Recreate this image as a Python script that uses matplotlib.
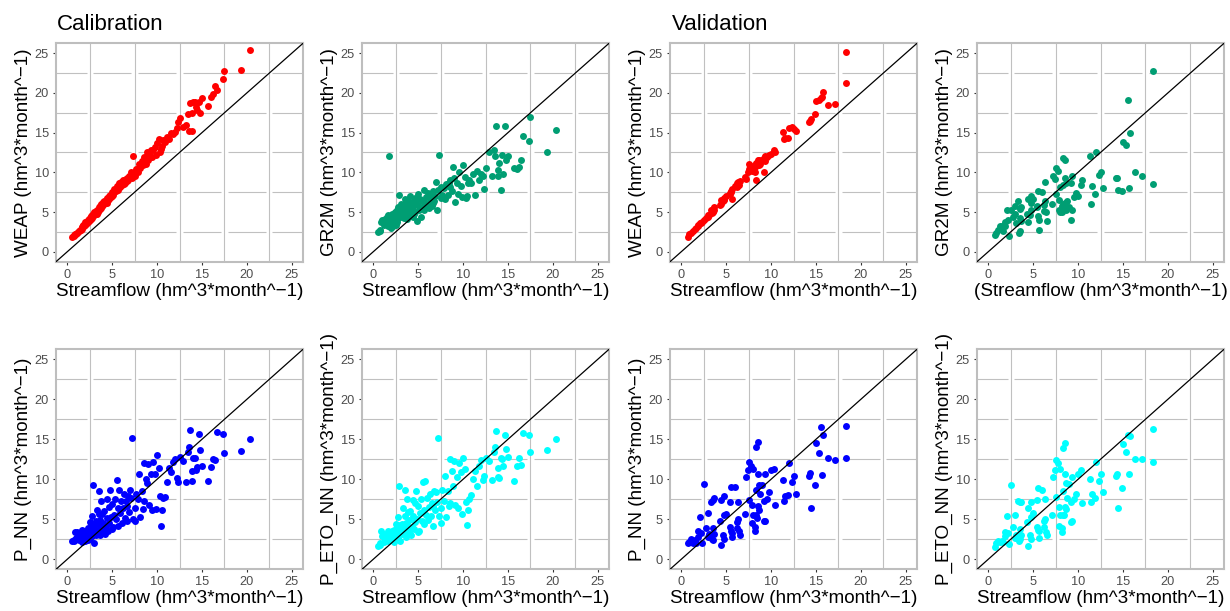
import numpy as np
import matplotlib
matplotlib.use("Agg")
import matplotlib.pyplot as plt

plt.rcParams['font.family'] = ['Liberation Sans', 'DejaVu Sans']

# calibration period: observed streamflow and the four simulations
cal_flow = [20.4, 19.4, 17.4, 17.3, 16.7, 16.4, 16.2, 16.0, 15.7, 15.0,
            14.8, 14.7, 14.5, 14.3, 14.2, 14.0, 13.9, 13.9, 13.7, 13.6,
            13.5, 13.2, 12.9, 12.6, 12.3, 12.2, 12.0, 11.8, 11.6, 11.3,
            11.1, 10.9, 10.7, 10.5, 10.4, 10.3, 10.2, 10.0, 9.9, 9.8,
            9.6, 9.4, 9.3, 9.1, 9.0, 8.9, 8.8, 8.6, 8.5, 8.4,
            8.3, 8.1, 8.0, 7.9, 7.7, 7.6, 7.5, 7.3, 7.2, 7.1,
            7.0, 6.9, 6.8, 6.7, 6.6, 6.5, 6.4, 6.3, 6.2, 6.1,
            6.0, 5.9, 5.8, 5.7, 5.6, 5.5, 5.4, 5.3, 5.2, 5.1,
            5.0, 5.0, 4.9, 4.8, 4.7, 4.6, 4.5, 4.4, 4.4, 4.3,
            4.2, 4.1, 4.0, 4.0, 3.9, 3.8, 3.8, 3.7, 3.6, 3.6,
            3.5, 3.5, 3.4, 3.3, 3.3, 3.2, 3.2, 3.1, 3.0, 3.0,
            2.9, 2.9, 2.8, 2.8, 2.7, 2.7, 2.6, 2.6, 2.5, 2.5,
            2.4, 2.4, 2.3, 2.3, 2.2, 2.1, 2.1, 2.0, 2.0, 1.9,
            1.8, 1.8, 1.7, 1.6, 1.6, 1.5, 1.4, 1.3, 1.2, 1.1,
            1.0, 0.9, 0.8, 0.7, 0.5]
cal_weap = [25.4, 22.9, 22.7, 21.7, 20.4, 20.9, 19.9, 19.5, 18.3, 19.4,
            17.5, 18.9, 17.8, 18.2, 18.8, 18.8, 17.5, 15.2, 18.7, 15.2,
            17.3, 16.0, 15.7, 16.8, 16.3, 15.6, 15.1, 14.8, 15.0, 14.2,
            14.4, 13.8, 14.1, 13.3, 13.0, 12.5, 14.2, 13.7, 12.2, 13.2,
            12.8, 11.9, 12.8, 12.3, 11.5, 12.6, 11.1, 11.6, 11.9, 10.9,
            11.4, 10.5, 11.0, 10.1, 10.4, 9.9, 9.5, 12.1, 9.3, 10.0,
            9.4, 9.6, 9.0, 9.3, 8.9, 9.2, 8.7, 8.5, 9.0, 8.4,
            8.8, 8.2, 8.6, 8.0, 7.8, 8.3, 7.6, 7.7, 7.9, 7.2,
            7.0, 7.5, 6.9, 7.2, 6.7, 7.0, 6.5, 6.8, 6.2, 6.5,
            6.1, 6.4, 5.9, 6.3, 5.8, 6.0, 5.5, 5.8, 5.4, 5.7,
            5.2, 5.6, 5.0, 5.3, 4.8, 5.1, 4.7, 4.9, 4.6, 5.0,
            4.5, 4.8, 4.3, 4.6, 4.2, 4.5, 4.1, 4.4, 4.0, 4.3,
            3.9, 4.1, 3.7, 4.0, 3.6, 3.5, 3.8, 3.4, 3.7, 3.3,
            3.2, 3.4, 3.1, 2.9, 3.1, 2.8, 2.7, 2.6, 2.5, 2.4,
            2.3, 2.2, 2.1, 2.0, 1.8]
cal_gr2m = [15.3, 12.5, 17.0, 13.9, 14.6, 11.6, 10.7, 10.4, 10.5, 12.1,
            11.6, 15.8, 9.8, 12.2, 7.8, 11.2, 9.5, 10.3, 15.8, 12.0,
            12.8, 9.5, 12.5, 10.5, 7.9, 9.6, 9.8, 9.0, 10.2, 7.2,
            9.8, 8.7, 9.0, 8.6, 7.0, 6.8, 9.4, 10.9, 6.9, 8.3,
            10.0, 7.3, 8.6, 6.3, 9.3, 10.7, 7.6, 8.2, 9.1, 8.6,
            7.1, 8.5, 6.6, 8.0, 7.2, 6.8, 8.1, 12.2, 7.8, 5.2,
            8.8, 7.0, 6.4, 7.7, 6.2, 5.8, 7.2, 6.6, 5.5, 7.4,
            6.0, 6.9, 5.9, 7.8, 5.2, 6.4, 5.7, 4.4, 6.7, 5.3,
            7.3, 5.9, 3.9, 6.2, 5.0, 6.8, 4.7, 5.6, 4.4, 6.3,
            5.3, 7.0, 4.6, 5.9, 6.4, 5.0, 4.1, 6.1, 5.5, 4.5,
            6.6, 5.0, 4.2, 5.8, 4.9, 5.4, 4.4, 6.0, 5.1, 4.6,
            7.1, 5.2, 4.3, 5.6, 4.9, 3.8, 5.3, 4.1, 4.8, 3.4,
            4.5, 5.0, 3.9, 4.4, 3.3, 4.7, 3.7, 4.2, 3.0, 4.0,
            12.1, 3.4, 4.6, 3.8, 3.2, 4.4, 3.6, 4.1, 3.4, 3.9,
            4.0, 3.7, 2.6, 2.7, 2.5]
cal_pnn = [15.0, 13.5, 13.3, 15.7, 15.9, 12.4, 12.5, 11.5, 9.8, 11.7,
           13.6, 15.6, 11.5, 11.2, 12.7, 12.7, 11.0, 9.8, 16.2, 14.0,
           13.4, 9.6, 12.3, 12.8, 9.6, 10.1, 12.5, 12.2, 10.9, 11.4,
           9.7, 7.8, 7.6, 6.1, 4.2, 7.9, 11.4, 13.0, 6.3, 10.6,
           12.1, 6.2, 10.7, 6.8, 11.9, 9.5, 10.0, 12.0, 7.3, 6.3,
           8.5, 5.3, 10.6, 7.5, 8.2, 6.4, 4.8, 5.0, 15.2, 7.6,
           8.6, 5.9, 7.9, 6.6, 4.8, 7.3, 5.2, 8.1, 6.4, 4.5,
           7.3, 5.8, 8.6, 4.2, 6.4, 9.9, 5.0, 7.5, 5.6, 4.1,
           6.9, 3.8, 5.3, 8.6, 4.5, 6.5, 3.6, 7.5, 5.2, 4.0,
           3.2, 6.0, 4.6, 3.5, 5.7, 4.2, 7.3, 3.0, 4.9, 3.8,
           8.5, 5.7, 3.3, 4.4, 6.2, 3.1, 4.8, 3.7, 2.1, 4.2,
           9.3, 3.4, 2.9, 5.4, 3.5, 4.5, 3.0, 3.8, 2.6, 4.7,
           3.3, 2.8, 3.9, 2.4, 3.1, 2.7, 3.5, 2.3, 3.0, 2.8,
           2.5, 3.3, 2.2, 3.7, 2.5, 2.8, 3.0, 2.4, 2.6, 3.4,
           2.7, 3.4, 2.4, 2.3, 2.3]
cal_peto = [15.0, 13.6, 13.4, 15.5, 15.8, 11.8, 12.6, 11.6, 9.8, 12.8,
            13.8, 15.5, 11.6, 12.5, 12.7, 10.2, 10.3, 11.4, 16.0, 14.0,
            13.4, 9.9, 12.3, 12.6, 10.4, 9.9, 12.4, 11.6, 9.2, 11.0,
            10.0, 8.0, 7.5, 6.2, 4.3, 7.1, 11.3, 12.6, 5.7, 10.9,
            12.0, 6.4, 10.3, 6.8, 12.3, 9.2, 11.0, 12.5, 7.0, 6.6,
            8.5, 5.3, 10.4, 7.3, 8.6, 6.4, 4.5, 5.4, 15.2, 7.2,
            8.4, 6.1, 8.5, 6.6, 4.2, 7.0, 5.4, 8.2, 6.5, 4.9,
            7.6, 5.5, 9.8, 4.4, 6.2, 9.6, 4.8, 7.5, 5.8, 3.6,
            6.6, 3.4, 5.1, 8.5, 4.7, 7.0, 3.8, 7.4, 5.4, 4.0,
            3.0, 6.0, 4.9, 3.4, 5.9, 4.5, 7.5, 2.8, 4.6, 3.9,
            8.6, 5.4, 3.5, 4.1, 6.4, 3.2, 4.4, 3.6, 2.3, 4.3,
            9.2, 3.4, 2.7, 5.3, 3.6, 4.2, 3.1, 3.9, 2.5, 4.4,
            3.5, 2.9, 3.7, 2.2, 3.0, 2.6, 3.6, 2.4, 3.3, 2.7,
            2.6, 3.4, 2.3, 3.5, 2.6, 3.0, 2.8, 2.5, 2.2, 3.2,
            2.9, 3.6, 2.0, 1.8, 1.7]

# validation period
val_flow = [18.4, 18.4, 17.1, 16.3, 15.6, 15.8, 15.0, 15.3, 15.7, 14.9,
            14.5, 14.3, 14.2, 12.0, 12.6, 12.3, 12.8, 11.9, 11.6, 11.4,
            11.3, 10.3, 10.0, 10.4, 8.5, 8.3, 7.6, 7.8, 7.4, 8.0,
            7.2, 8.6, 9.3, 8.8, 9.0, 8.7, 8.3, 9.8, 9.6, 9.2,
            8.6, 8.7, 7.9, 8.0, 8.4, 8.3, 7.9, 8.2, 8.2, 9.2,
            9.3, 7.1, 7.5, 5.5, 6.0, 6.3, 5.4, 4.4, 4.8, 3.5,
            3.7, 3.3, 2.5, 3.0, 2.1, 4.8, 5.0, 6.3, 6.2, 6.2,
            6.5, 6.4, 5.7, 5.7, 4.4, 4.6, 4.8, 4.3, 5.4, 5.5,
            3.5, 3.7, 3.5, 3.4, 2.8, 3.1, 3.0, 1.9, 2.2, 1.9,
            1.5, 1.1, 0.7, 0.9, 2.3, 1.7, 1.3]
val_weap = [25.1, 21.2, 18.6, 18.5, 19.3, 20.1, 19.0, 19.1, 19.5, 17.3,
            16.7, 16.5, 16.4, 15.6, 15.5, 15.7, 15.2, 14.3, 14.3, 14.2,
            15.1, 12.8, 12.3, 12.6, 11.6, 11.0, 11.0, 10.3, 10.0, 10.8,
            9.2, 11.3, 11.4, 11.0, 11.6, 10.9, 9.1, 12.2, 11.9, 10.1,
            11.1, 11.5, 10.6, 10.4, 10.9, 11.2, 10.2, 10.7, 10.0, 11.8,
            12.0, 9.4, 10.4, 7.5, 8.3, 8.8, 7.3, 6.5, 6.6, 5.4,
            5.6, 5.2, 4.0, 4.6, 3.6, 6.8, 7.0, 8.4, 8.6, 8.1,
            8.9, 8.4, 6.6, 7.9, 6.0, 6.4, 6.5, 5.9, 7.4, 7.6,
            5.1, 5.2, 5.0, 4.9, 4.3, 4.6, 4.4, 3.4, 3.6, 3.2,
            2.9, 2.4, 1.9, 2.2, 3.8, 3.0, 2.6]
val_gr2m = [22.7, 8.5, 9.6, 10.0, 19.1, 15.0, 13.8, 13.5, 8.0, 7.6,
            7.8, 9.3, 9.3, 12.6, 10.0, 9.7, 8.0, 7.3, 8.3, 6.0,
            12.1, 8.4, 7.0, 9.0, 11.6, 11.8, 10.6, 10.2, 9.2, 8.2,
            9.6, 9.3, 9.5, 6.4, 5.6, 8.6, 8.4, 7.4, 6.9, 8.7,
            6.2, 5.2, 6.5, 5.0, 5.6, 6.0, 5.3, 5.0, 5.8, 4.0,
            5.3, 6.0, 7.3, 7.7, 7.5, 8.8, 5.8, 6.6, 7.0, 5.4,
            5.6, 6.4, 5.2, 5.8, 5.3, 6.2, 6.7, 6.4, 5.9, 5.1,
            3.9, 5.0, 2.8, 4.0, 3.8, 4.6, 5.2, 4.7, 5.6, 4.5,
            4.3, 3.9, 2.6, 2.4, 4.4, 3.6, 4.8, 3.8, 4.0, 3.2,
            3.3, 2.8, 2.1, 2.4, 2.0, 2.6, 3.3]
val_pnn = [16.6, 12.6, 12.4, 12.6, 16.5, 15.5, 14.5, 13.3, 10.5, 9.3,
           6.4, 10.8, 10.4, 12.0, 10.4, 9.6, 8.2, 8.0, 7.9, 7.3,
           9.9, 11.3, 11.2, 6.8, 14.6, 14.0, 12.2, 11.6, 11.2, 11.3,
           10.3, 10.6, 10.6, 8.2, 9.3, 9.3, 8.7, 8.4, 7.5, 7.3,
           6.7, 6.2, 6.8, 5.6, 5.2, 5.6, 4.5, 4.1, 3.6, 4.8,
           4.8, 5.7, 7.4, 9.0, 9.0, 7.2, 7.2, 7.4, 7.9, 7.4,
           7.6, 7.1, 9.4, 5.8, 5.3, 5.6, 5.7, 5.0, 4.7, 3.9,
           3.1, 3.5, 2.8, 3.3, 1.8, 3.0, 2.6, 4.8, 4.1, 3.5,
           3.9, 3.2, 2.4, 2.6, 3.9, 3.2, 2.8, 3.5, 3.3, 2.8,
           2.4, 2.6, 2.0, 2.2, 2.1, 2.1, 2.1]
val_peto = [16.3, 12.1, 12.5, 12.5, 15.5, 15.4, 14.4, 13.4, 10.7, 8.9,
            6.4, 10.7, 10.4, 12.2, 10.6, 9.8, 8.4, 7.7, 8.2, 7.2,
            10.0, 11.2, 10.6, 7.0, 14.5, 13.9, 12.4, 12.0, 11.2, 11.3,
            10.3, 10.7, 10.3, 7.6, 9.4, 9.5, 8.5, 8.1, 7.5, 7.2,
            6.5, 6.3, 6.5, 5.5, 5.6, 5.5, 4.2, 3.9, 3.4, 4.7,
            4.8, 5.5, 7.8, 8.9, 8.6, 7.5, 7.4, 6.4, 7.2, 7.2,
            7.1, 7.3, 9.3, 5.5, 5.4, 5.3, 5.8, 5.0, 4.8, 4.0,
            3.1, 3.4, 2.7, 3.6, 1.7, 3.0, 2.5, 4.7, 4.0, 3.7,
            3.8, 3.1, 2.6, 2.3, 4.0, 3.1, 2.7, 3.4, 3.3, 2.9,
            2.3, 2.3, 1.5, 2.1, 1.9, 2.2, 2.2]

unit = "(hm^3*month^\u22121)"
W, H = 1230, 611
fig = plt.figure(figsize=(W / 100, H / 100), dpi=100)

lo, hi = -1.25, 26.25
minor = np.arange(2.5, 25, 5.0)
gap = 0.35


def panel(left, top, width, height, x, y, color, ylab, xlab):
    ax = fig.add_axes([left / W, 1 - (top + height) / H, width / W, height / H])
    ax.set_xlim(lo, hi)
    ax.set_ylim(lo, hi)
    # minor grid: vertical solid, horizontal broken at the crossings
    for v in minor:
        ax.axvline(v, color='#c0c0c0', lw=0.8, zorder=0)
    starts = np.concatenate([[lo], minor + gap])
    ends = np.concatenate([minor - gap, [hi]])
    for h in minor:
        ax.hlines([h] * len(starts), starts, ends, color='#c0c0c0', lw=0.8, zorder=0)
    ax.scatter(x, y, s=25, color=color, linewidths=0, zorder=2)
    ax.axline((0, 0), slope=1, color='black', lw=0.9, zorder=3)
    ax.set_xticks([0, 5, 10, 15, 20, 25])
    ax.set_yticks([0, 5, 10, 15, 20, 25])
    ax.tick_params(length=2.5, width=0.8, color='#333333', labelcolor='#4d4d4d',
                   labelsize=9.2, pad=2.5)
    for s in ax.spines.values():
        s.set_color('#bebebe')
        s.set_linewidth(1.5)
    ax.set_xlabel(xlab, fontsize=13.6, labelpad=1.5)
    ax.set_ylabel(ylab, fontsize=13.6, labelpad=2)
    return ax


lefts = [56, 362, 670, 977]
pw = 247
tops = [43.3, 349.3]
hts = [218.4, 220]
sf = "Streamflow " + unit

panel(lefts[0], tops[0], pw, hts[0], cal_flow, cal_weap, '#FF0000', "WEAP " + unit, sf)
panel(lefts[1], tops[0], pw, hts[0], cal_flow, cal_gr2m, '#009E73', "GR2M " + unit, sf)
panel(lefts[2], tops[0], pw, hts[0], val_flow, val_weap, '#FF0000', "WEAP " + unit, sf)
panel(lefts[3], tops[0], pw, hts[0], val_flow, val_gr2m, '#009E73', "GR2M " + unit, "(" + sf)
panel(lefts[0], tops[1], pw, hts[1], cal_flow, cal_pnn, '#0000FF', "P_NN " + unit, sf)
panel(lefts[1], tops[1], pw, hts[1], cal_flow, cal_peto, '#00FFFF', "P_ETO_NN " + unit, sf)
panel(lefts[2], tops[1], pw, hts[1], val_flow, val_pnn, '#0000FF', "P_NN " + unit, sf)
panel(lefts[3], tops[1], pw, hts[1], val_flow, val_peto, '#00FFFF', "P_ETO_NN " + unit, sf)

fig.text(57 / W, 1 - 30 / H, "Calibration", fontsize=16, va='baseline', ha='left')
fig.text(672 / W, 1 - 30 / H, "Validation", fontsize=16, va='baseline', ha='left')

fig.savefig("out.png", dpi=100)
